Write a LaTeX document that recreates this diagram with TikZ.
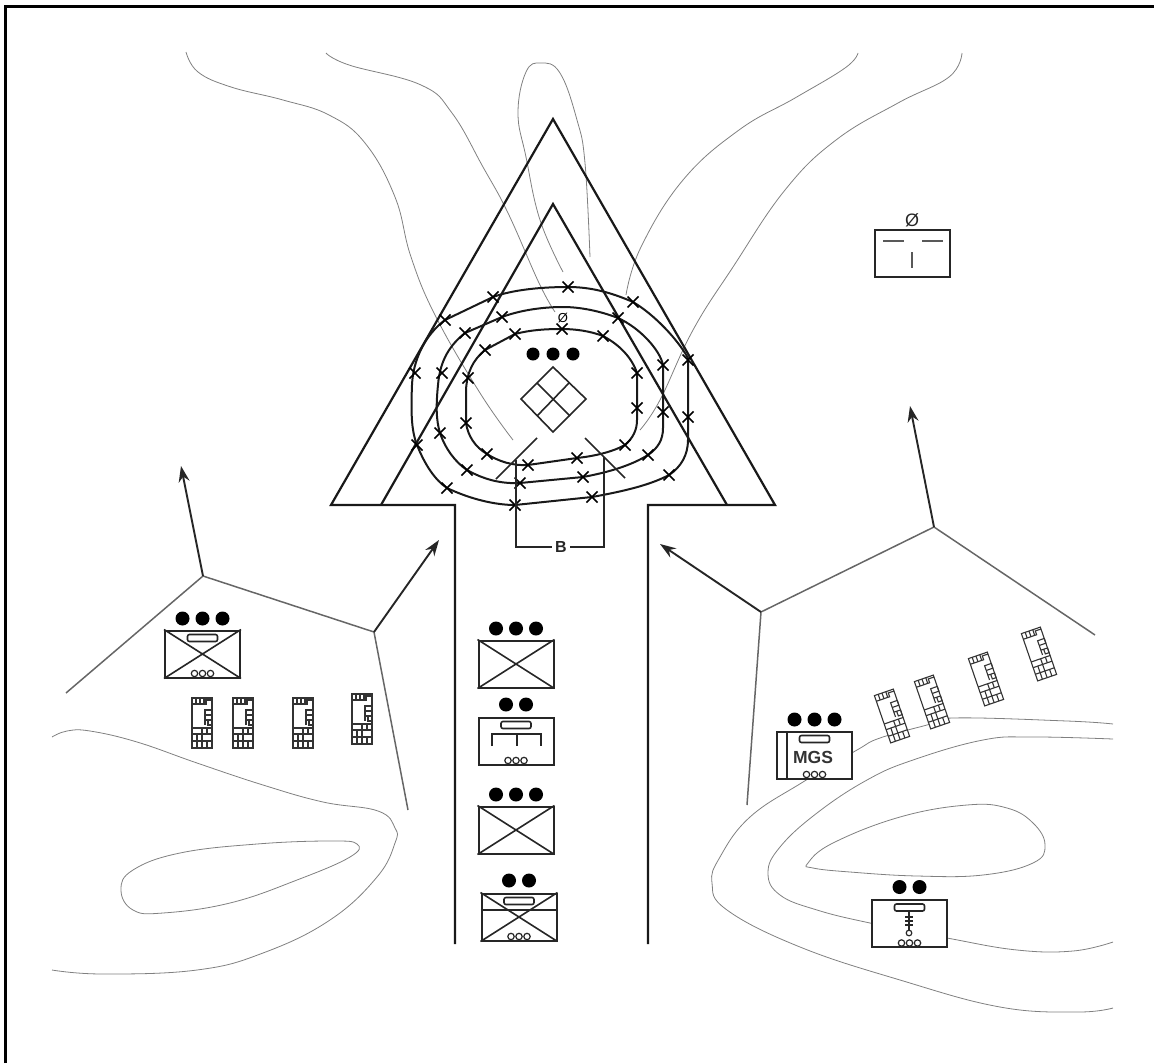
\documentclass[tikz,border=0pt]{standalone}
\usepackage{fontspec}
\setsansfont{Liberation Sans}
\usetikzlibrary{arrows.meta}

\newcommand{\threedots}[1]{\foreach \d in {-20,0,20} \fill ([shift={(\d pt,11pt)}]#1.north) circle (7pt);}
\newcommand{\twodots}[1]{\foreach \d in {-10,10} \fill ([shift={(\d pt,12pt)}]#1.north) circle (7pt);}
\newcommand{\crossbox}[1]{\draw[unitline] (#1.north west)--(#1.south east) (#1.north east)--(#1.south west);}
\newcommand{\carrier}[1]{
  \draw[unitline,rounded corners=2pt,fill=white] ([shift={(-15pt,-5pt)}]#1.north) rectangle ([shift={(15pt,-12pt)}]#1.north);
  \foreach \d in {-8,0,8} \draw[line width=1.2pt,black!85] ([shift={(\d pt,5pt)}]#1.south) circle (3.2pt);
}

\begin{document}
\begin{tikzpicture}[
    x=1pt,y=-1pt,
    >={Stealth[length=16pt,width=11pt]},
    frame/.style={line width=3pt},
    arrowline/.style={line width=2.2pt,black!90},
    sector/.style={line width=1.5pt,black!60},
    axisline/.style={line width=1.9pt,black!85,->},
    terrain/.style={line width=.8pt,black!50},
    wire/.style={line width=2pt,black!90},
    unitline/.style={line width=1.6pt,draw=black!85},
    unit/.style={draw=black!85,fill=white,line width=2pt,minimum width=75pt,minimum height=47pt,inner sep=0pt},
    vehicle/.pic={
      \begin{scope}[line width=1.1pt,black!80]
      \draw[fill=white] (-10,-25) rectangle (10,25);
      \draw (-10,-19)--(4,-19)--(4,-23)--(10,-23);
      \draw (-6,-25)--(-6,-19) (-2,-25)--(-2,-19) (2,-25)--(2,-19);
      \draw (3,-13) rectangle (10,-8) (3,-8)--(3,2) (3,-3)--(10,-3) (6,2) rectangle (10,-3);
      \draw (-10,5)--(10,5) (-10,11)--(10,11) (-10,18)--(10,18);
      \draw (0,5)--(0,25) (-5,11)--(-5,18) (5,5)--(5,11) (5,18)--(5,25) (-5,18)--(-5,25);
      \end{scope}
    }
]
\useasboundingbox (0,0) rectangle (1154,1063);
\draw[frame] (5.5,1063)--(5.5,6.5)--(1154,6.5);

% terrain
\draw[terrain] plot[smooth,tension=.7] coordinates {(186,52) (198,72) (231,87) (283,100) (329,115) (365,143) (395,197) (411,257) (436,317) (480,393) (513,440)};
\draw[terrain] plot[smooth,tension=.7] coordinates {(326,53) (349,65) (421,85) (452,113) (483,167) (508,213) (539,283) (555,312)};
\draw[terrain] plot[smooth,tension=.7] coordinates {(563,272) (540,220) (526,157) (518,113) (526,72) (541,63) (560,73) (577,120) (585,163) (590,257)};
\draw[terrain] plot[smooth,tension=.7] coordinates {(858,53) (845,68) (795,98) (739,130) (683,180) (641,247) (626,295)};
\draw[terrain] plot[smooth,tension=.7] coordinates {(962,53) (949,77) (898,103) (836,140) (785,190) (733,267) (693,330) (660,400) (640,430)};
\draw[terrain] plot[smooth,tension=.7] coordinates {(52,737) (67,731) (90,731) (137,742) (197,763) (263,785) (323,802) (378,811) (395,828) (395,843) (377,877) (330,920) (263,953) (197,970) (103,974) (52,970)};
\draw[terrain] plot[smooth cycle,tension=.7] coordinates {(121,890) (133,870) (180,853) (257,844) (330,841) (357,844) (350,857) (297,880) (230,903) (163,913) (133,910)};
\draw[terrain] plot[smooth,tension=.7] coordinates {(1113,724) (1067,721) (953,718) (927,725) (880,738) (857,750) (803,782) (750,817) (720,857) (712,883) (727,910) (800,947) (900,980) (1000,1007) (1077,1012) (1113,1008)};
\draw[terrain] plot[smooth,tension=.7] coordinates {(1113,739) (1033,737) (983,740) (913,760) (867,780) (817,813) (780,847) (768,873) (780,895) (817,910) (870,923) (947,938) (1017,950) (1073,951) (1113,942)};
\draw[terrain] plot[smooth cycle,tension=.7] coordinates {(808,863) (833,843) (900,817) (967,805) (1007,808) (1033,823) (1045,845) (1033,863) (983,875) (917,876) (850,872) (813,868)};

% axis of advance
\draw[arrowline] (455,944)--(455,505)--(331,505)--(553,119)--(775,505)--(648,505)--(648,944);
\draw[arrowline] (381,505)--(553,204)--(727,505);

% sectors
\coordinate (lefthub) at (203,576);
\coordinate (leftend) at (374,632);
\coordinate (lefttip) at (181,466);
\coordinate (leftfwd) at (439,540);
\coordinate (righthub) at (934,527);
\coordinate (rightend) at (761,612);
\coordinate (righttip) at (910,406);
\coordinate (rightfwd) at (660,544);
\draw[sector] (66,693)--(lefthub)--(leftend)--(408,810);
\draw[sector] (747,805)--(rightend)--(righthub)--(1095,635);
\draw[axisline] (lefthub)--(lefttip);
\draw[axisline] (leftend)--(leftfwd);
\draw[axisline] (righthub)--(righttip);
\draw[axisline] (rightend)--(rightfwd);

% objective wire
\draw[wire] (515,505) -- (592,497) .. controls (625,491) and (650,485) .. (669,475) .. controls (681,467) and (688,455) .. (688,440) -- (688,358) .. controls (678,340) and (655,315) .. (633,302) .. controls (610,292) and (590,287) .. (568,287) .. controls (540,287) and (512,290) .. (493,297) -- (445,320) .. controls (425,335) and (413,360) .. (412,385) .. controls (411,410) and (411,430) .. (417,445) .. controls (425,465) and (435,480) .. (447,488) .. controls (470,499) and (495,505) .. (515,505) -- cycle;
\draw[wire] (520,483) -- (583,477) .. controls (610,472) and (632,465) .. (648,455) .. controls (658,448) and (663,440) .. (663,428) -- (663,365) .. controls (660,350) and (640,328) .. (618,318) .. controls (600,311) and (580,307) .. (563,307) .. controls (540,307) and (518,311) .. (502,317) -- (465,333) .. controls (450,345) and (440,360) .. (438,385) .. controls (436,405) and (436,420) .. (440,433) .. controls (445,448) and (455,462) .. (467,470) .. controls (483,479) and (500,484) .. (520,483) -- cycle;
\draw[wire] (528,465) -- (577,458) .. controls (595,456) and (612,452) .. (625,445) .. controls (633,438) and (637,430) .. (637,420) -- (637,373) .. controls (632,358) and (620,345) .. (603,336) .. controls (590,331) and (575,329) .. (562,329) .. controls (545,329) and (530,330) .. (515,334) -- (485,350) .. controls (473,360) and (467,372) .. (466,390) -- (466,423) .. controls (468,436) and (475,447) .. (487,454) .. controls (498,461) and (512,466) .. (528,465) -- cycle;
\foreach \p in {(515,505),(592,497),(669,475),(688,417),(688,360),(633,302),(568,287),(493,297),(445,320),(415,373),(417,445),(447,488),
  (520,483),(583,477),(648,455),(663,412),(663,365),(618,318),(502,317),(465,333),(442,373),(440,433),(467,470),
  (528,465),(577,458),(625,445),(637,408),(637,373),(603,336),(562,329),(515,334),(485,350),(468,378),(466,423),(487,454)}
  \draw[line width=1.7pt] \p +(-5.5,-5.5)--+(5.5,5.5) \p +(-5.5,5.5)--+(5.5,-5.5);

% objective
\node[font=\sffamily\fontsize{13pt}{13pt}\selectfont,inner sep=0pt] (wiregap) at (563,318) {Ø};
\foreach \d in {-20,0,20} \fill (553,354) +(\d,0) circle (6.5pt);
\draw[line width=1.6pt,black!85] (553,367)--(586,399)--(553,432)--(521,399)--cycle;
\draw[line width=1.6pt,black!85] (537,383)--(570,416) (569,383)--(537,416);
\draw[line width=1.6pt,black!85] (537,438)--(496,479) (585,438)--(625,478);

% boundary bracket
\node[font=\sffamily\bfseries\fontsize{16pt}{16pt}\selectfont,inner sep=3pt,text=black!85] (zoneb) at (561,547) {B};
\draw[line width=1.6pt,black!85] (516,460)--(516,547)--(zoneb.west);
\draw[line width=1.6pt,black!85] (604,457)--(604,547)--(zoneb.east);

% center column
\node[unit] (infone) at (516,664) {};
\threedots{infone}
\crossbox{infone}
\node[unit] (engine) at (516,741) {};
\twodots{engine}
\carrier{engine}
\draw[unitline] (492,746)--(492,734)--(541,734)--(541,746) (517,734)--(517,746);
\node[unit] (inftwo) at (516,830) {};
\threedots{inftwo}
\crossbox{inftwo}
\node[unit] (mech) at (519,917) {};
\twodots{mech}
\crossbox{mech}
\draw[unitline] (mech.west |- 0,910)--(mech.east |- 0,910);
\carrier{mech}

% flank units
\node[unit] (leftinf) at (202.5,654) {};
\threedots{leftinf}
\crossbox{leftinf}
\carrier{leftinf}
\node[unit] (mgs) at (814.5,755) {};
\threedots{mgs}
\carrier{mgs}
\draw[unitline] (787,732)--(787,778);
\node[font=\sffamily\bfseries\fontsize{17.5pt}{17.5pt}\selectfont,text=black!80,inner sep=0pt] (mgstext) at (813,757) {MGS};
\node[unit] (recon) at (912.5,253.5) {};
\node[font=\sffamily\fontsize{18pt}{18pt}\selectfont,inner sep=0pt,text=black!85] (reconmark) at (912,220) {Ø};
\draw[line width=2.4pt,black!65] (883,241)--(904,241) (922,241)--(943,241) (912,252)--(912,268);
\node[unit] (support) at (909.5,923.5) {};
\twodots{support}
\carrier{support}
\draw[line width=1.2pt,black!85] (909,912)--(909,930) (905,917)--(913,917) (905,921)--(913,921) (905,925)--(913,925);
\draw[line width=1.2pt,black!85] (909,933) circle (2.8pt);

% vehicles
\foreach \x/\y in {202/723,243/723,303/723,362/719}
  \pic at (\x,\y) {vehicle};
\foreach \x/\y in {892/716,932/702,986/679,1039/654}
  \pic[rotate=19] at (\x,\y) {vehicle};
\end{tikzpicture}
\end{document}
